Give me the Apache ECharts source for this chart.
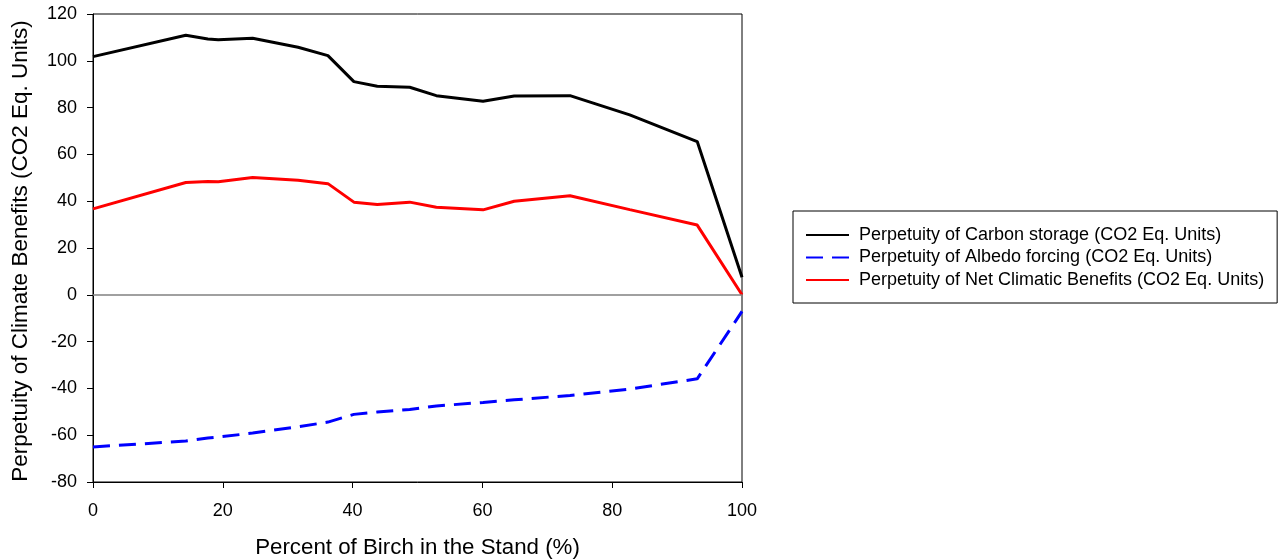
<!DOCTYPE html>
<html>
<head>
<meta charset="utf-8">
<script src="https://cdn.jsdelivr.net/npm/echarts@6/dist/echarts.min.js"></script>
<style>
html,body{margin:0;padding:0;background:#fff;}
#chart{width:1279px;height:559px;}
</style>
</head>
<body>
<div id="chart"></div>
<script>
const birchPercent = [0, 14.3, 17.7, 19.3, 24.6, 31.6, 36.2, 40.2, 43.8, 48.8, 52.9, 60.1, 64.9, 73.5, 82.7, 93.1, 100];
const carbonStorage = [101.8, 110.9, 109.3, 109.0, 109.6, 105.8, 102.2, 91.1, 89.1, 88.7, 85.1, 82.7, 85.0, 85.1, 76.9, 65.5, 7.5];
const albedoForcing = [-65.0, -62.5, -61.2, -60.8, -59.1, -56.4, -54.4, -51.1, -50.1, -49.0, -47.5, -46.0, -44.9, -43.0, -40.3, -35.9, -7.1];
const netBenefits = [36.7, 48.0, 48.4, 48.3, 50.1, 49.0, 47.5, 39.6, 38.6, 39.6, 37.4, 36.3, 40.0, 42.3, 36.4, 29.8, 0];
const seriesNames = [
  'Perpetuity of Carbon storage (CO2 Eq. Units)',
  'Perpetuity of Albedo forcing (CO2 Eq. Units)',
  'Perpetuity of Net Climatic Benefits (CO2 Eq. Units)'
];
const xTitle = 'Percent of Birch in the Stand (%)';
const yTitle = 'Perpetuity of Climate Benefits (CO2 Eq. Units)';

const font = '"Liberation Sans", Arial, sans-serif';
function pairs(vals) { return birchPercent.map((x, i) => [x, vals[i]]); }

const chart = echarts.init(document.getElementById('chart'), null, {renderer: 'canvas'});
chart.setOption({
  animation: false,
  backgroundColor: '#ffffff',
  textStyle: {fontFamily: font},
  grid: {left: 93, right: 537, top: 14, bottom: 77, containLabel: false, outerBoundsMode: 'none',
         show: true, borderColor: '#000', borderWidth: 1, backgroundColor: 'transparent'},
  legend: {
    orient: 'vertical',
    left: 793, top: 211,
    padding: [15, 13, 14, 12],
    borderColor: '#000', borderWidth: 1,
    itemWidth: 43, itemHeight: 18, itemGap: 4.5,
    itemStyle: {opacity: 0},
    textStyle: {fontFamily: font, fontSize: 18, lineHeight: 18, color: '#000', padding: [0, 0, 0, 5]},
    data: seriesNames
  },
  xAxis: {
    type: 'value', min: 0, max: 100, interval: 20,
    name: xTitle, nameLocation: 'middle', nameGap: 55,
    nameTextStyle: {fontFamily: font, fontSize: 22.3, color: '#000'},
    axisLine: {onZero: false, lineStyle: {color: '#000', width: 1}},
    axisTick: {show: true, inside: false, length: 6, lineStyle: {color: '#000'}},
    axisLabel: {fontFamily: font, fontSize: 18, color: '#000', margin: 20},
    splitLine: {show: false}
  },
  yAxis: {
    type: 'value', min: -80, max: 120, interval: 20,
    name: yTitle, nameLocation: 'middle', nameGap: 61,
    nameTextStyle: {fontFamily: font, fontSize: 22.5, color: '#000', padding: [0, 6, 0, 0]},
    axisLine: {show: true, onZero: false, lineStyle: {color: '#000', width: 1}},
    axisTick: {show: true, inside: false, length: 6, lineStyle: {color: '#000'}},
    axisLabel: {fontFamily: font, fontSize: 18, color: '#000', margin: 16},
    splitLine: {show: false}
  },
  series: [
    {
      name: seriesNames[0], type: 'line', data: pairs(carbonStorage),
      symbol: 'none', color: '#000000',
      lineStyle: {color: '#000000', width: 3},
      markLine: {
        silent: true, symbol: 'none', label: {show: false},
        lineStyle: {color: '#808080', width: 1.5, type: 'solid'},
        data: [{yAxis: 0}]
      },
      z: 3
    },
    {
      name: seriesNames[1], type: 'line', data: pairs(albedoForcing),
      symbol: 'none', color: '#0000ff',
      lineStyle: {color: '#0000ff', width: 3, type: [17, 9]},
      z: 3
    },
    {
      name: seriesNames[2], type: 'line', data: pairs(netBenefits),
      symbol: 'none', color: '#ff0000',
      lineStyle: {color: '#ff0000', width: 3},
      z: 4
    }
  ]
});
</script>
</body>
</html>
